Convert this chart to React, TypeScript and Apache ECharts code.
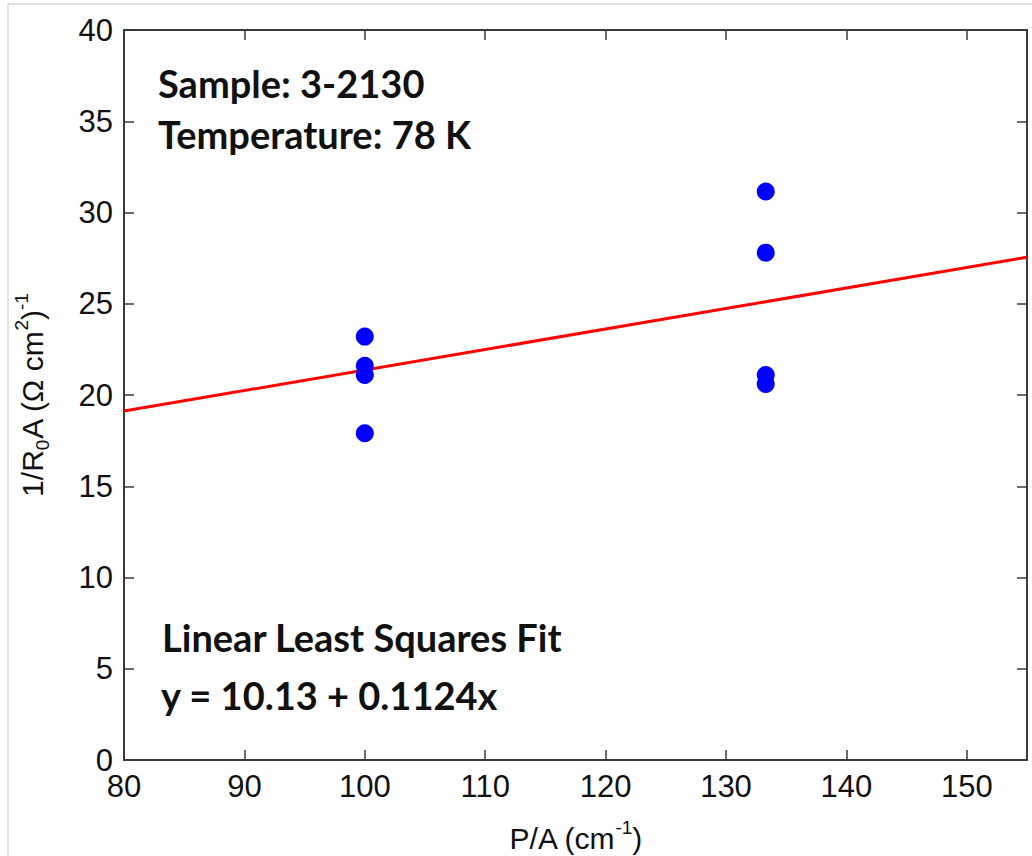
import React, { useEffect, useRef } from "react";
import * as echarts from "echarts";

const xLeft = [100, 100, 100, 100];
const yLeft = [23.2, 21.6, 21.1, 17.9];
const xRight = [133.3, 133.3, 133.3, 133.3];
const yRight = [31.15, 27.8, 21.1, 20.6];
const fitX = [80, 155];
const fitY = [19.12, 27.55];
const annotations = ["Sample: 3-2130", "Temperature: 78 K", "Linear Least Squares Fit", "y = 10.13 + 0.1124x"];

export default function App() {
  const ref = useRef<HTMLDivElement>(null);
  useEffect(() => {
    if (!ref.current) return;
    const chart = echarts.init(ref.current, null, { renderer: "svg" });
    const axisColor = "#3a3a3a";
    const ff = "Liberation Sans, Arial, sans-serif";
    const labelFont = { fontFamily: ff, fontSize: 31, color: "#111" };
    const baseX = {
      type: "value",
      min: 80,
      max: 155,
      interval: 10,
      splitLine: { show: false },
      axisLine: { show: true, onZero: false, lineStyle: { color: axisColor, width: 2 } },
      axisTick: { show: true, inside: true, length: 10, lineStyle: { color: axisColor, width: 1.5 } },
    };
    const baseY = {
      type: "value",
      min: 0,
      max: 40,
      interval: 5,
      splitLine: { show: false },
      axisLine: { show: true, onZero: false, lineStyle: { color: axisColor, width: 2 } },
      axisTick: { show: true, inside: true, length: 10, lineStyle: { color: axisColor, width: 1.5 } },
    };
    const points = [
      ...xLeft.map((x, i) => [x, yLeft[i]]),
      ...xRight.map((x, i) => [x, yRight[i]]),
    ];
    const annFont = { fontFamily: "Lato, 'Open Sans', sans-serif", fontWeight: "bold", fontSize: 38, fill: "#111", verticalAlign: "middle" };
    const richName = {
      sub: { fontFamily: ff, fontSize: 19, lineHeight: 19, verticalAlign: "bottom", color: "#111" },
      sup: { fontFamily: ff, fontSize: 19, lineHeight: 19, verticalAlign: "top", color: "#111" },
    };
    chart.setOption({
      animation: false,
      backgroundColor: "#ffffff",
      grid: { left: 124, top: 30, right: 5, bottom: 96, containLabel: false, outerBoundsMode: "none" },
      xAxis: [
        {
          ...baseX,
          position: "bottom",
          name: "P/A (cm{sup|-1})",
          nameLocation: "middle",
          nameGap: 58,
          nameTextStyle: { fontFamily: ff, fontSize: 30, color: "#111", lineHeight: 40, rich: richName },
          axisLabel: { ...labelFont, margin: 11, showMaxLabel: false },
        },
        { ...baseX, position: "top", axisLabel: { show: false } },
      ],
      yAxis: [
        {
          ...baseY,
          position: "left",
          name: "1/R{sub|0}A (Ω cm{sup|2}){sup|-1}",
          nameLocation: "middle",
          nameGap: 72,
          nameRotate: 90,
          nameTextStyle: { fontFamily: ff, fontSize: 30, color: "#111", lineHeight: 40, rich: richName },
          axisLabel: { ...labelFont, margin: 11 },
        },
        { ...baseY, position: "right", axisLabel: { show: false } },
      ],
      series: [
        {
          type: "line",
          data: fitX.map((x, i) => [x, fitY[i]]),
          symbol: "none",
          lineStyle: { color: "#ff0000", width: 3 },
          z: 2,
        },
        {
          type: "scatter",
          data: points,
          symbol: "circle",
          symbolSize: 18,
          itemStyle: { color: "#0000ff", opacity: 1 },
          z: 3,
        },
      ],
      graphic: [
        { type: "line", shape: { x1: 8, y1: 4, x2: 1032, y2: 4 }, style: { stroke: "#d9d9d9", lineWidth: 1.5 }, silent: true },
        { type: "line", shape: { x1: 8, y1: 4, x2: 8, y2: 856 }, style: { stroke: "#d9d9d9", lineWidth: 1.5 }, silent: true },
        { type: "text", x: 158, y: 83, style: { text: annotations[0], ...annFont } },
        { type: "text", x: 158, y: 134, style: { text: annotations[1], ...annFont } },
        { type: "text", x: 162, y: 637, style: { text: annotations[2], ...annFont } },
        { type: "text", x: 161, y: 695, style: { text: annotations[3], ...annFont } },
      ],
    });
    return () => chart.dispose();
  }, []);
  return <div ref={ref} style={{ position: "fixed", left: 0, top: 0, width: 1032, height: 856 }} />;
}
